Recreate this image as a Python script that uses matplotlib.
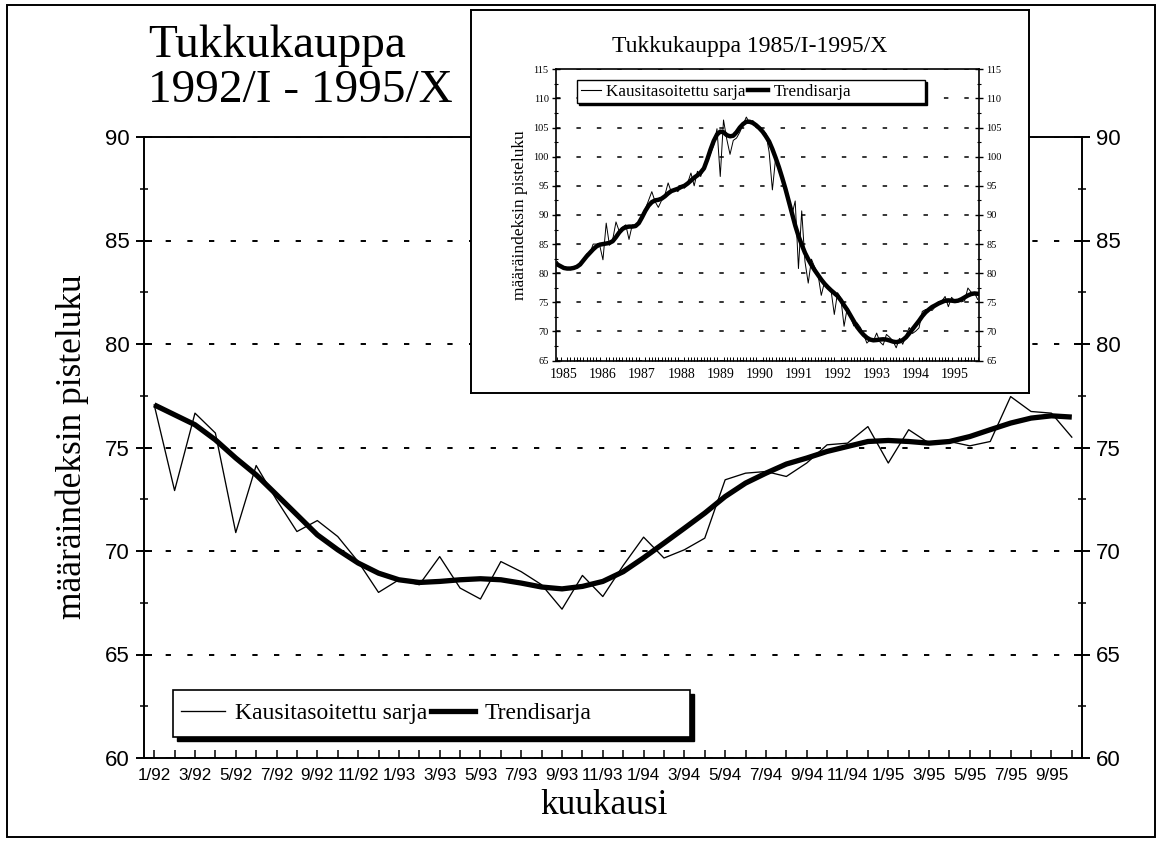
import matplotlib
matplotlib.use('Agg')
import matplotlib.pyplot as plt
import numpy as np
from matplotlib.patches import Rectangle
from matplotlib.lines import Line2D
from matplotlib.ticker import FixedLocator, MultipleLocator
import matplotlib.transforms as mtransforms

plt.rcParams['font.family'] = ['Liberation Serif', 'DejaVu Serif']
plt.rcParams['lines.scale_dashes'] = False

# ---------------- data ----------------
# seasonally adjusted series (Kausitasoitettu sarja), monthly 1/1985 - 12/1991
sa_1985_1991 = [
    82.0, 81.0, 80.7, 80.9, 80.6, 81.1, 81.0, 81.8, 82.1, 83.3, 83.4, 85.0,
    85.0, 84.8, 82.3, 88.6, 84.8, 85.8, 88.8, 87.2, 87.9, 88.3, 85.8, 88.3,
    88.0, 88.8, 90.0, 91.0, 92.5, 94.0, 92.3, 91.3, 92.5, 93.4, 95.5, 93.9,
    94.5, 94.0, 95.0, 94.6, 95.5, 97.2, 95.0, 97.5, 96.6, 98.2, 99.0, 100.5,
    102.0, 104.8, 96.6, 106.3, 103.0, 100.4, 102.8, 103.2, 104.2, 105.5, 106.8, 105.8,
    106.2, 105.0, 104.8, 104.5, 104.0, 100.8, 94.3, 99.8, 98.0, 96.6, 94.0, 92.6,
    90.0, 92.4, 80.8, 90.7, 82.0, 78.3, 82.4, 81.0, 79.8, 76.2, 78.5, 77.8,
]
# trend series (Trendisarja), monthly 1/1985 - 12/1991
trend_1985_1991 = [
    81.5, 81.2, 80.9, 80.8, 80.8, 80.9, 81.1, 81.5, 82.2, 82.9, 83.5, 84.1,
    84.6, 84.9, 85.0, 85.1, 85.2, 85.5, 86.2, 87.0, 87.6, 87.9, 88.0, 88.0,
    88.1, 88.6, 89.6, 90.7, 91.6, 92.2, 92.5, 92.6, 92.8, 93.2, 93.7, 94.1,
    94.3, 94.5, 94.8, 95.0, 95.4, 95.9, 96.4, 96.8, 97.3, 98.0, 99.5, 101.2,
    102.7, 103.8, 104.3, 104.2, 103.7, 103.5, 103.6, 104.2, 105.0, 105.6, 106.0, 106.0,
    105.8, 105.4, 104.9, 104.3, 103.5, 102.6, 101.3, 99.8, 98.2, 96.4, 94.5, 92.4,
    90.3, 88.2, 86.4, 84.9, 83.5, 82.4, 81.4, 80.5, 79.7, 78.9, 78.2, 77.6,
]
# monthly 1/1992 - 10/1995 (main chart)
sa_1992_1995 = [
    77.06, 72.92, 76.66, 75.70, 70.89, 74.13, 72.47, 70.94, 71.47, 70.70,
    69.49, 68.00, 68.61, 68.37, 69.73, 68.21, 67.68, 69.49, 69.00, 68.37,
    67.19, 68.82, 67.80, 69.30, 70.67, 69.66, 70.06, 70.62, 73.44, 73.76,
    73.84, 73.60, 74.25, 75.13, 75.21, 76.01, 74.25, 75.86, 75.21, 75.29,
    75.08, 75.29, 77.46, 76.74, 76.66, 75.50,
]
trend_1992_1995 = [
    77.06, 76.58, 76.10, 75.37, 74.49, 73.68, 72.72, 71.75, 70.78, 70.06,
    69.42, 68.93, 68.61, 68.48, 68.53, 68.61, 68.66, 68.61, 68.45, 68.26,
    68.17, 68.29, 68.53, 69.00, 69.67, 70.38, 71.10, 71.83, 72.63, 73.28,
    73.76, 74.20, 74.49, 74.81, 75.05, 75.29, 75.34, 75.29, 75.21, 75.29,
    75.53, 75.86, 76.18, 76.42, 76.53, 76.47,
]
main_tick_labels = ['1/92', '3/92', '5/92', '7/92', '9/92', '11/92', '1/93', '3/93',
                    '5/93', '7/93', '9/93', '11/93', '1/94', '3/94', '5/94', '7/94',
                    '9/94', '11/94', '1/95', '3/95', '5/95', '7/95', '9/95']
inset_year_labels = ['1985', '1986', '1987', '1988', '1989', '1990', '1991',
                     '1992', '1993', '1994', '1995']
series_names = ['Kausitasoitettu sarja', 'Trendisarja']

sa_all = sa_1985_1991 + sa_1992_1995
trend_all = trend_1985_1991 + trend_1992_1995

# ---------------- figure ----------------
W, H = 1160, 844
fig = plt.figure(figsize=(W / 100, H / 100), dpi=100)


def frac_rect(x0, y0, x1, y1):
    return [x0 / W, 1 - y1 / H, (x1 - x0) / W, (y1 - y0) / H]


# outer frame
fig.patches.append(Rectangle((7 / W, 1 - 837 / H), (1155 - 7) / W, (837 - 5) / H,
                             transform=fig.transFigure, fill=False,
                             edgecolor='black', linewidth=1.4))

tick_font = ['Liberation Sans', 'DejaVu Sans']

# ---------------- main axes ----------------
ax = fig.add_axes(frac_rect(144, 137, 1082, 758))
xm = np.arange(len(sa_1992_1995))
ax.plot(xm, sa_1992_1995, color='black', linewidth=0.95, zorder=3)
ax.plot(xm, trend_1992_1995, color='black', linewidth=3.8, zorder=4,
        solid_capstyle='butt')
ax.set_xlim(-0.5, len(xm) - 0.5)
ax.set_ylim(60, 90)
for s in ax.spines.values():
    s.set_linewidth(1.4)

ax.xaxis.set_major_locator(FixedLocator(list(range(0, len(xm), 2))))
ax.set_xticklabels(main_tick_labels, family=tick_font, fontsize=12.3)
ax.xaxis.set_minor_locator(FixedLocator(list(range(1, len(xm), 2))))
ax.tick_params(axis='x', which='both', direction='in', length=6, width=1.1, pad=7)

ax.yaxis.set_major_locator(MultipleLocator(5))
ax.yaxis.set_minor_locator(MultipleLocator(2.5))
ax.tick_params(axis='y', which='major', direction='inout', length=12, width=1.4,
               labelsize=16, left=True, right=True, labelleft=True, labelright=True,
               pad=4)
ax.tick_params(axis='y', which='minor', direction='inout', length=6, width=1.1,
               left=True, right=True)
for lab in ax.get_yticklabels():
    lab.set_family(tick_font)
ax.grid(axis='y', which='major', color='black', linewidth=1.4,
        linestyle=(0, (3.8, 11.8)))
ax.set_axisbelow(True)

# main legend (box with black shadow drawn as patches, entries via legend)
lx0, lx1 = (173 - 144) / 938, (690 - 144) / 938
ly0, ly1 = (758 - 737) / 621, (758 - 690) / 621
shadow_tr = mtransforms.offset_copy(ax.transAxes, fig=fig, x=4, y=-4, units='dots')
ax.add_patch(Rectangle((lx0, ly0), lx1 - lx0, ly1 - ly0, transform=shadow_tr,
                       facecolor='black', edgecolor='black', zorder=6))
ax.add_patch(Rectangle((lx0, ly0), lx1 - lx0, ly1 - ly0, transform=ax.transAxes,
                       facecolor='white', edgecolor='black', linewidth=1.2, zorder=7))
handles = [Line2D([], [], color='black', linewidth=0.95),
           Line2D([], [], color='black', linewidth=3.8)]
leg = ax.legend(handles, series_names, loc='center left',
                bbox_to_anchor=(lx0 + 0.003, (ly0 + ly1) / 2), frameon=False, ncol=2,
                fontsize=17, handlelength=1.9, handletextpad=0.4,
                columnspacing=0.15, borderpad=0.2, borderaxespad=0)
leg.set_zorder(8)

# titles / labels
fig.text(148 / W, 1 - 57 / H, 'Tukkukauppa', fontsize=34, ha='left', va='baseline')
fig.text(148 / W, 1 - 102 / H, '1992/I - 1995/X', fontsize=34, ha='left',
         va='baseline')
fig.text(72 / W, 1 - 447 / H, 'määräindeksin pisteluku', fontsize=25.5,
         rotation=90, ha='center', va='center')
fig.text(604 / W, 1 - 805 / H, 'kuukausi', fontsize=25.5, ha='center', va='center')

# ---------------- inset ----------------
box = fig.add_axes(frac_rect(471, 10, 1029, 393))
box.set_xticks([])
box.set_yticks([])
box.set_facecolor('white')
for s in box.spines.values():
    s.set_linewidth(1.4)
box.text(0.5, 1 - (52 - 10) / 383, 'Tukkukauppa 1985/I-1995/X', fontsize=17,
         ha='center', va='baseline', transform=box.transAxes)

ai = fig.add_axes(frac_rect(555.7, 69.3, 979.3, 360.6))
xi = np.arange(len(sa_all))
ai.plot(xi, sa_all, color='black', linewidth=0.7, zorder=3)
ai.plot(xi, trend_all, color='black', linewidth=3.2, zorder=4)
ai.set_xlim(-0.5, len(xi) - 0.5)
ai.set_ylim(65, 115)
for s in ai.spines.values():
    s.set_linewidth(1.2)
ai.xaxis.set_major_locator(FixedLocator([12 * k + 2 for k in range(len(inset_year_labels))]))
ai.set_xticklabels(inset_year_labels, fontsize=10)
ai.xaxis.set_minor_locator(FixedLocator(list(range(len(xi)))))
ai.tick_params(axis='x', which='major', length=0, pad=5)
ai.tick_params(axis='x', which='minor', direction='in', length=3, width=0.7)
ai.yaxis.set_major_locator(MultipleLocator(5))
ai.yaxis.set_minor_locator(MultipleLocator(2.5))
ai.tick_params(axis='y', which='major', direction='inout', length=6, width=1.0,
               labelsize=7.5, left=True, right=True, labelleft=True, labelright=True,
               pad=2)
ai.tick_params(axis='y', which='minor', direction='inout', length=3.5, width=0.8,
               left=True, right=True)
ai.grid(axis='y', which='major', color='black', linewidth=1.1,
        linestyle=(0, (3.2, 11.5)))
ai.set_axisbelow(True)
ai.set_ylabel('määräindeksin pisteluku', fontsize=12.5, labelpad=4)

ix0, ix1 = (577 - 555.7) / 423.6, (925 - 555.7) / 423.6
iy0, iy1 = (360.6 - 103) / 291.3, (360.6 - 80) / 291.3
ishadow = mtransforms.offset_copy(ai.transAxes, fig=fig, x=2, y=-2, units='dots')
ai.add_patch(Rectangle((ix0, iy0), ix1 - ix0, iy1 - iy0, transform=ishadow,
                       facecolor='black', edgecolor='black', zorder=6))
ai.add_patch(Rectangle((ix0, iy0), ix1 - ix0, iy1 - iy0, transform=ai.transAxes,
                       facecolor='white', edgecolor='black', linewidth=1.0, zorder=7))
ihandles = [Line2D([], [], color='black', linewidth=0.8),
            Line2D([], [], color='black', linewidth=3.2)]
ileg = ai.legend(ihandles, series_names, loc='center left',
                 bbox_to_anchor=(ix0 + 0.005, (iy0 + iy1) / 2), frameon=False, ncol=2,
                 fontsize=12.3, handlelength=1.2, handletextpad=0.3,
                 columnspacing=0.1, borderpad=0.1, borderaxespad=0)
ileg.set_zorder(8)

fig.savefig('out.png', dpi=100)
